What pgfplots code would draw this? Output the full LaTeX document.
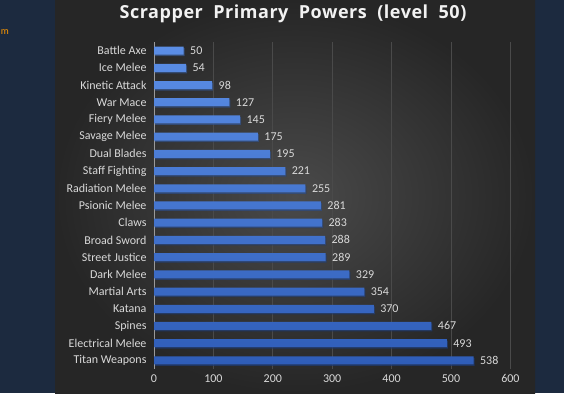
\documentclass[border=0pt]{standalone}
\usepackage{pgfplots}
\pgfplotsset{compat=1.18}
\usepackage{fontspec}
\setmainfont{Carlito}
\newfontfamily\titlefont{Open Sans}[LetterSpace=3]
\definecolor{navy}{HTML}{1C2A3F}
\definecolor{bgin}{HTML}{4A4A4A}
\definecolor{bgout}{HTML}{262626}
\definecolor{labelcol}{HTML}{D9D9D9}
\definecolor{bartop}{HTML}{5B8EE6}
\definecolor{barbot}{HTML}{2F5DB8}
\definecolor{gridcol}{HTML}{4A4A4A}
\definecolor{axiscol}{HTML}{9A9A9A}
\begin{document}
\begin{tikzpicture}
\useasboundingbox (0pt,0pt) rectangle (564pt,393pt);
\fill[navy] (0pt,0pt) rectangle (564pt,393pt);
\shade[inner color=bgin, outer color=bgout] (55pt,0pt) rectangle (535pt,393pt);
\node[anchor=east, text=orange!80!yellow, font=\fontsize{10}{12}\selectfont, inner sep=0pt] at (9pt,361pt) {m};
\node[text=white!95!black, font=\titlefont\bfseries\fontsize{18}{21}\selectfont] at (293pt,379pt) {Scrapper\ \ Primary\ \ Powers\ \ (level\ \ 50)};
\begin{axis}[
  at={(154pt,24pt)}, anchor=south west,
  scale only axis, width=356.4pt, height=327pt,
  xbar,
  xmin=0, xmax=600, ymin=-0.5, ymax=18.5,
  xtick={0,100,...,600},
  ytick={0,...,18},
  yticklabels={Titan Weapons,Electrical Melee,Spines,Katana,Martial Arts,Dark Melee,Street Justice,Broad Sword,Claws,Psionic Melee,Radiation Melee,Staff Fighting,Dual Blades,Savage Melee,Fiery Melee,War Mace,Kinetic Attack,Ice Melee,Battle Axe},
  major tick length=0pt,
  xmajorgrids, grid style={gridcol, line width=0.7pt},
  separate axis lines,
  axis x line*=bottom, axis y line*=left,
  y axis line style={draw=axiscol, line width=0.8pt},
  x axis line style={draw=none},
  tick label style={text=labelcol, font=\fontsize{12}{14}\selectfont},
  yticklabel style={xshift=-4pt},
  xticklabel style={yshift=-2pt},
  /pgf/number format/assume math mode=true,
  point meta=x,
  nodes near coords,
  every node near coord/.append style={anchor=west, text=labelcol, font=\fontsize{12}{14}\selectfont, xshift=3pt},
  clip=false,
]
\addplot[bar width=8pt, draw=none, top color=bartop, bottom color=barbot,
  preaction={fill=black, fill opacity=0.45, transform canvas={yshift=-1.5pt, xshift=1pt}}]
coordinates {(538,0) (493,1) (467,2) (370,3) (354,4) (329,5) (289,6) (288,7) (283,8) (281,9) (255,10) (221,11) (195,12) (175,13) (145,14) (127,15) (98,16) (54,17) (50,18)};
\end{axis}
\end{tikzpicture}
\end{document}
